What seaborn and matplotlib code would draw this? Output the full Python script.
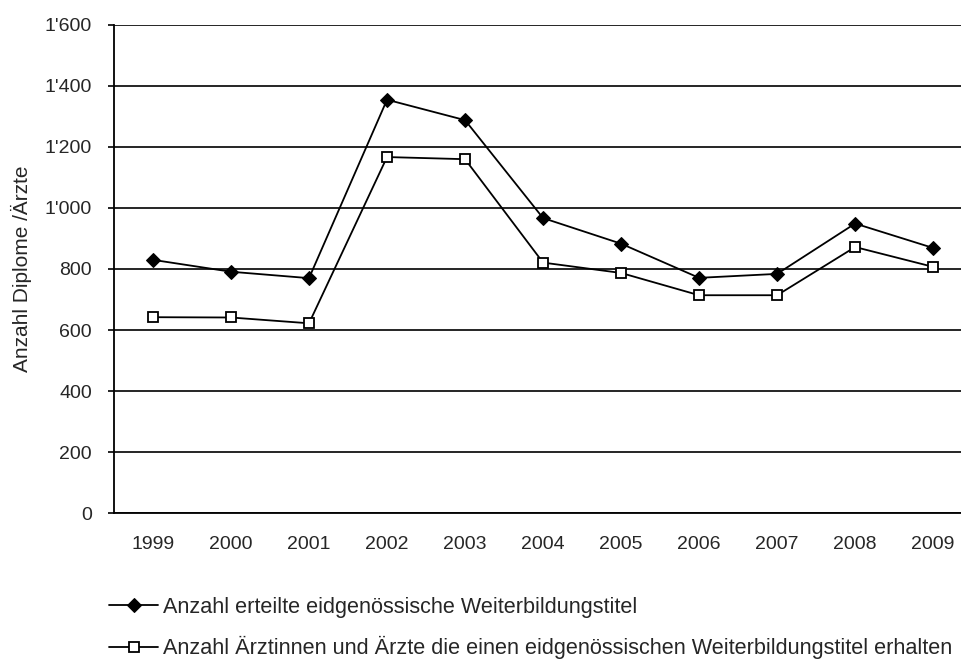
import pandas as pd
import seaborn as sns
import matplotlib.pyplot as plt
from matplotlib.ticker import FuncFormatter

# Daten
jahre = [1999, 2000, 2001, 2002, 2003, 2004, 2005, 2006, 2007, 2008, 2009]
titel = [830, 791, 770, 1355, 1288, 967, 883, 771, 784, 949, 869]
aerzte = [642, 641, 622, 1167, 1160, 821, 787, 714, 714, 872, 807]

label_titel = "Anzahl erteilte eidgenössische Weiterbildungstitel"
label_aerzte = "Anzahl Ärztinnen und Ärzte die einen eidgenössischen Weiterbildungstitel erhalten"

df = pd.DataFrame({"Jahr": jahre, "titel": titel, "aerzte": aerzte})

sns.set_style("white")
plt.rcParams['font.family'] = ['Liberation Sans', 'DejaVu Sans']

fig = plt.figure(figsize=(9.61, 6.66), dpi=100)
# Plotfläche reicht rechts über den Bildrand hinaus
ax = fig.add_axes([0.1186, 0.2297, 0.893, 0.7328])

sns.lineplot(data=df, x="Jahr", y="titel", ax=ax, color="black", linewidth=1.3,
             marker="D", markersize=7, markerfacecolor="black",
             markeredgecolor="black", label=label_titel, legend=False)
sns.lineplot(data=df, x="Jahr", y="aerzte", ax=ax, color="black", linewidth=1.3,
             marker="s", markersize=7, markerfacecolor="white",
             markeredgecolor="black", markeredgewidth=1.3,
             label=label_aerzte, legend=False)

ax.set_xlim(1998.5, 2009.5)
ax.set_ylim(0, 1600)
ax.set_yticks(range(0, 1601, 200))
ax.set_xticks(jahre)
ax.yaxis.set_major_formatter(FuncFormatter(lambda v, p: f"{int(v):,}".replace(",", "'")))
ax.yaxis.grid(True, color="black", linewidth=1.2)
ax.set_axisbelow(True)

for s in ["top", "right"]:
    ax.spines[s].set_visible(False)
ax.spines["left"].set_color("black")
ax.spines["left"].set_linewidth(1.3)
ax.spines["bottom"].set_color("black")
ax.spines["bottom"].set_linewidth(1.3)

ax.tick_params(axis="y", left=True, length=4, width=1.2, color="black",
               labelsize=14, pad=12)
ax.tick_params(axis="x", bottom=False, labelsize=14, pad=13)

ax.set_xlabel("")
ax.set_ylabel("Anzahl Diplome /Ärzte", fontsize=15, labelpad=9)

handles, labels = ax.get_legend_handles_labels()
fig.legend(handles, labels, loc="upper left", bbox_to_anchor=(0.104, 0.117),
           frameon=False, fontsize=15.6, handlelength=2.3, handletextpad=0.2,
           labelspacing=0.85, borderaxespad=0)

fig.savefig("out.png", dpi=100)
